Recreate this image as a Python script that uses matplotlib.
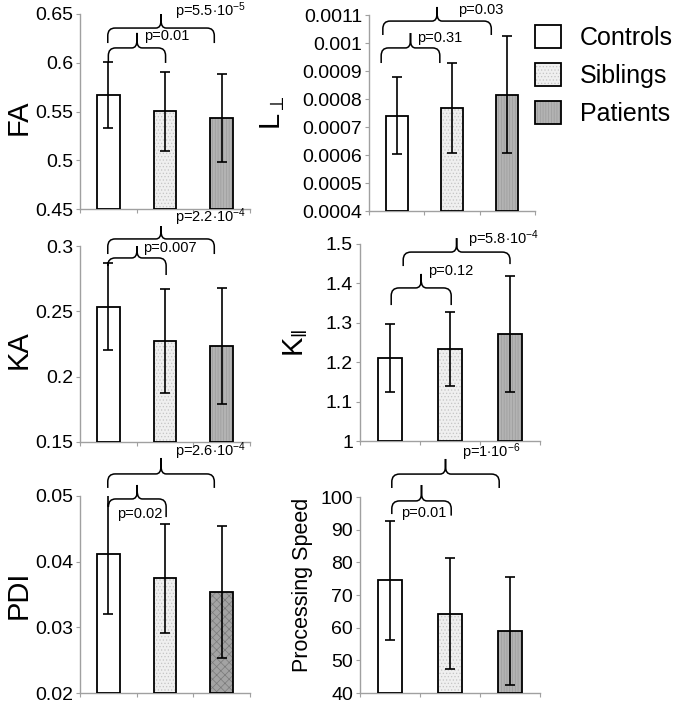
import matplotlib
matplotlib.use('Agg')
import matplotlib.pyplot as plt
import matplotlib.patches as patches
from matplotlib.path import Path
from matplotlib.transforms import blended_transform_factory

plt.rcParams['font.family'] = ['Liberation Sans', 'DejaVu Sans']
plt.rcParams['mathtext.fontset'] = 'custom'
plt.rcParams['mathtext.rm'] = 'Liberation Sans'
plt.rcParams['mathtext.it'] = 'Liberation Sans:italic'
plt.rcParams['hatch.linewidth'] = 0.5

groups = ['Controls', 'Siblings', 'Patients']

fa_mean = [0.567, 0.550, 0.5435]
fa_err = [0.034, 0.040, 0.045]
fa_ticks = [0.45, 0.5, 0.55, 0.6, 0.65]

lperp_mean = [0.000741, 0.000767, 0.000816]
lperp_err = [0.000138, 0.00016, 0.00021]
lperp_ticks = [0.0004, 0.0005, 0.0006, 0.0007, 0.0008, 0.0009, 0.001, 0.0011]

ka_mean = [0.2536, 0.2273, 0.2235]
ka_err = [0.0335, 0.040, 0.0447]
ka_ticks = [0.15, 0.2, 0.25, 0.3]

kpar_mean = [1.2115, 1.2335, 1.272]
kpar_err = [0.086, 0.094, 0.148]
kpar_ticks = [1, 1.1, 1.2, 1.3, 1.4, 1.5]

pdi_mean = [0.0411, 0.0375, 0.0354]
pdi_err = [0.0091, 0.0083, 0.0101]
pdi_ticks = [0.02, 0.03, 0.04, 0.05]

ps_mean = [74.5, 64.2, 58.9]
ps_err = [18.2, 17.0, 16.5]
ps_ticks = [40, 50, 60, 70, 80, 90, 100]

# p-values: (sibling vs control, patient vs control)
fa_p = ['p=0.01', r'p=5.5$\cdot$10$^{-5}$']
lperp_p = ['p=0.31', 'p=0.03']
ka_p = ['p=0.007', r'p=2.2$\cdot$10$^{-4}$']
kpar_p = ['p=0.12', r'p=5.8$\cdot$10$^{-4}$']
pdi_p = ['p=0.02', r'p=2.6$\cdot$10$^{-4}$']
ps_p = ['p=0.01', r'p=1$\cdot$10$^{-6}$']

W, H = 677, 702
fig = plt.figure(figsize=(W / 100, H / 100), dpi=100)

fills = ['white', '#efefef', '#b3b3b3']
hatch_cols = ['white', '#c4c4c4', '#9c9c9c']
hatches = [None, '.....', '||||||']
axis_col = '#a0a0a0'
pat_fill_hatch_col = '#7a7a7a'


def px_axes(x0, y0, x1, y1):
    return fig.add_axes([x0 / W, 1 - y1 / H, (x1 - x0) / W, (y1 - y0) / H])


def brace(ax, x1, x2, yl, yr, yh, ytop, r=0.13, rc=0.09, dv=0.04):
    xc = (x1 + x2) / 2
    dt = min(dv, yh - min(yl, yr))
    dc = min(dv, ytop - yh)
    verts = [(x1, yl), (x1, yh - dt), (x1, yh), (x1 + r, yh),
             (xc - rc, yh), (xc, yh), (xc, yh + dc), (xc, ytop),
             (xc, ytop), (xc, yh + dc), (xc, yh), (xc + rc, yh),
             (x2 - r, yh), (x2, yh), (x2, yh - dt), (x2, yr)]
    codes = [Path.MOVETO, Path.LINETO, Path.CURVE3, Path.CURVE3,
             Path.LINETO, Path.CURVE3, Path.CURVE3, Path.LINETO,
             Path.MOVETO, Path.LINETO, Path.CURVE3, Path.CURVE3,
             Path.LINETO, Path.CURVE3, Path.CURVE3, Path.LINETO]
    tr = blended_transform_factory(ax.transData, ax.transAxes)
    ax.add_patch(patches.PathPatch(Path(verts, codes), fill=False, lw=1.1,
                                   ec='black', transform=tr, clip_on=False))


def panel(rect, means, errs, ticks, ylabel, lab_size, lab_xy, pvals,
          br_small, br_large, txt_small, txt_large, pat_fill=None, pat_hatch=None):
    ax = px_axes(*rect)
    y0 = ticks[0]
    x = list(range(len(groups)))
    for i in x:
        fc = fills[i]
        hc = hatch_cols[i]
        hh = hatches[i]
        if i == 2 and pat_fill:
            fc, hc, hh = pat_fill, pat_fill_hatch_col, pat_hatch
        ax.bar(i, means[i] - y0, bottom=y0, width=0.4, color=fc,
               edgecolor=hc, linewidth=0, hatch=hh, zorder=2)
        ax.bar(i, means[i] - y0, bottom=y0, width=0.4, fill=False,
               edgecolor='black', linewidth=1.3, zorder=3)
    ax.errorbar(x, means, yerr=errs, fmt='none', ecolor='black',
                elinewidth=1.2, capsize=3.5, capthick=1.2, zorder=4)
    ax.set_xlim(-0.5, 2.5)
    ax.set_ylim(ticks[0], ticks[-1])
    ax.set_yticks(ticks)
    ax.set_yticklabels([f'{t:g}' for t in ticks])
    ax.set_xticks([-0.5, 0.5, 1.5, 2.5])
    ax.set_xticklabels([])
    for s in ['top', 'right']:
        ax.spines[s].set_visible(False)
    for s in ['left', 'bottom']:
        ax.spines[s].set_color(axis_col)
        ax.spines[s].set_linewidth(1.0)
    ax.tick_params(axis='y', direction='out', length=3, color=axis_col,
                   labelsize=14, pad=2, labelcolor='black')
    ax.tick_params(axis='x', direction='out', length=3, color=axis_col)
    ax.set_ylabel(ylabel, fontsize=lab_size, va='center')
    ax.yaxis.set_label_coords(*lab_xy)

    brace(ax, *br_small)
    brace(ax, *br_large)
    tr = blended_transform_factory(ax.transData, ax.transAxes)
    ax.text(txt_small[0], txt_small[1], pvals[0], transform=tr, ha='left',
            va='center', fontsize=10.5, clip_on=False)
    ax.text(txt_large[0], txt_large[1], pvals[1], transform=tr, ha='left',
            va='center', fontsize=10.5, clip_on=False)
    return ax


panel((80, 14, 250, 209), fa_mean, fa_err, fa_ticks, 'FA', 21, (-0.36, 0.47), fa_p,
      (0, 1.01, 0.749, 0.749, 0.826, 0.903), (-0.01, 1.87, 0.851, 0.851, 0.928, 1.0),
      (0.63, 0.887), (1.18, 1.012))

panel((369, 15, 535, 211), lperp_mean, lperp_err, lperp_ticks, r'L$_{\perp}$', 21,
      (-0.58, 0.5), lperp_p,
      (-0.28, 0.78, 0.755, 0.755, 0.832, 0.908), (-0.25, 1.71, 0.898, 0.898, 0.969, 1.041),
      (0.37, 0.883), (1.11, 1.025))

panel((80, 246, 250, 442), ka_mean, ka_err, ka_ticks, 'KA', 21, (-0.36, 0.47), ka_p,
      (-0.01, 1.02, 0.918, 0.852, 0.939, 1.0), (-0.01, 1.87, 0.959, 0.959, 1.036, 1.102),
      (0.61, 0.99), (1.18, 1.148))

panel((360, 244, 540, 441), kpar_mean, kpar_err, kpar_ticks, r'K$_{\|}$', 21,
      (-0.36, 0.5), kpar_p,
      (0.02, 1.02, 0.690, 0.690, 0.777, 0.848), (0.22, 2.0, 0.888, 0.898, 0.959, 1.030),
      (0.63, 0.863), (1.3, 1.025))

panel((80, 496, 250, 693), pdi_mean, pdi_err, pdi_ticks, 'PDI', 21, (-0.36, 0.5), pdi_p,
      (0.0, 1.02, 0.964, 0.893, 0.985, 1.056), (-0.01, 1.87, 1.041, 1.041, 1.112, 1.193),
      (0.155, 0.909), (1.18, 1.228), pat_fill='#a3a3a3', pat_hatch='xxxx')

panel((360, 497, 540, 693), ps_mean, ps_err, ps_ticks, 'Processing Speed', 15.5,
      (-0.32, 0.55), ps_p,
      (0.03, 1.02, 0.913, 0.905, 0.980, 1.061), (0.03, 1.82, 1.046, 1.046, 1.117, 1.194),
      (0.18, 0.918), (1.2, 1.230))

handles = []
for i in range(3):
    h1 = patches.Patch(facecolor=fills[i], edgecolor=hatch_cols[i], linewidth=0,
                       hatch=hatches[i])
    h2 = patches.Patch(fill=False, edgecolor='black', linewidth=1.3)
    handles.append((h1, h2))
fig.legend(handles, groups, loc='upper left', bbox_to_anchor=(535 / W, 1 - 25 / H),
           frameon=False, fontsize=18, handlelength=1.05, handleheight=1.05,
           handletextpad=0.75, labelspacing=0.52, borderpad=0, borderaxespad=0)

fig.savefig('out.png', dpi=100)
